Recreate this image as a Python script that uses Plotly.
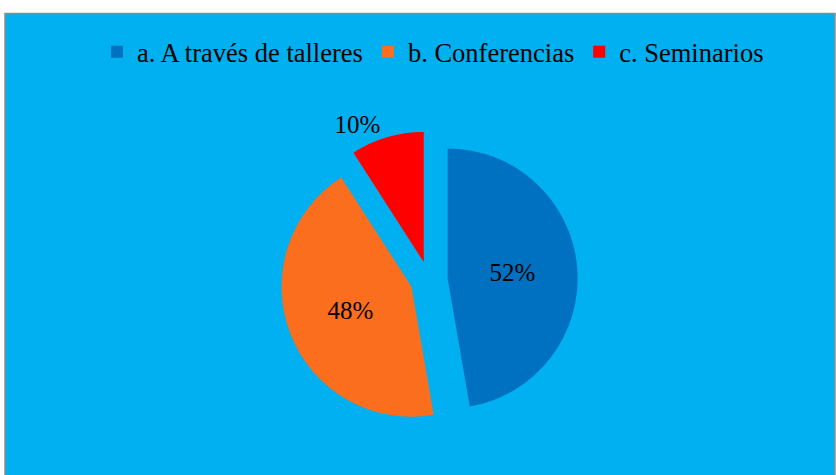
import plotly.graph_objects as go

labels = ["a. A través de talleres", "b. Conferencias", "c. Seminarios"]
values = [52, 48, 10]
text_labels = ["52%", "48%", "10%"]
colors = ["#0070C0", "#FA6E1E", "#FF0000"]

W, H = 836, 475
BG = "#00B0F0"
FONT = "Liberation Serif, Times New Roman, serif"

fig = go.Figure(
    go.Pie(
        labels=labels,
        values=values,
        text=text_labels,
        textinfo="text",
        textposition=["inside", "inside", "outside"],
        insidetextorientation="horizontal",
        marker=dict(colors=colors, line=dict(width=0)),
        pull=[0.144, 0.144, 0.144],
        sort=False,
        direction="clockwise",
        rotation=0,
        textfont=dict(family=FONT, size=25, color="black"),
        outsidetextfont=dict(family=FONT, size=25, color="black"),
        insidetextfont=dict(family=FONT, size=25, color="black"),
        domain=dict(x=[0.3353, 0.6910], y=[0.0975, 0.7236]),
        hoverinfo="label+text",
    )
)

fig.update_layout(
    width=W,
    height=H,
    margin=dict(l=0, r=0, t=0, b=0),
    paper_bgcolor="white",
    plot_bgcolor=BG,
    font=dict(family=FONT, color="black"),
    showlegend=True,
    legend=dict(
        orientation="h",
        x=433 / W,
        xanchor="center",
        y=1 - 52 / H,
        yanchor="middle",
        font=dict(family=FONT, size=26.5, color="black"),
        bgcolor="rgba(0,0,0,0)",
        traceorder="normal",
    ),
    shapes=[
        dict(
            type="rect",
            xref="paper",
            yref="paper",
            x0=5 / W,
            x1=835 / W,
            y0=-0.01,
            y1=1 - 13.5 / H,
            fillcolor=BG,
            line=dict(color="#8C8C8C", width=1.5),
            layer="below",
        )
    ],
)

fig.write_html(
    "out.html",
    config={"displayModeBar": False},
    post_script="document.body.style.margin='0';document.body.style.overflow='hidden';",
)
